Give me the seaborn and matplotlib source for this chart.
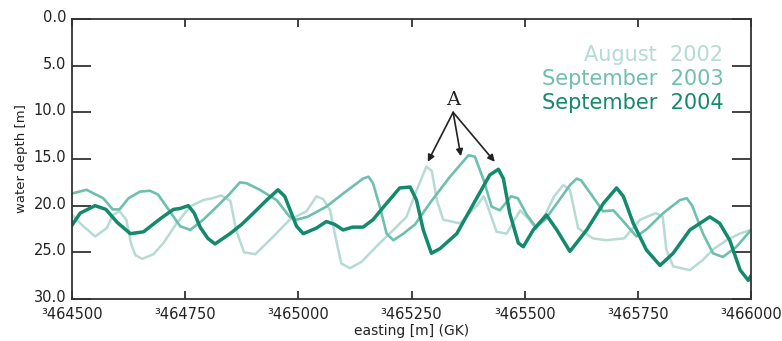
import matplotlib
matplotlib.use("Agg")
import matplotlib.pyplot as plt
import matplotlib.transforms as mtransforms
import seaborn as sns
import pandas as pd

# ---------------- data ----------------
aug2002_x = [464500, 464525, 464551, 464577, 464590, 464605, 464620, 464630, 464640, 464655,
             464680, 464702, 464731, 464761, 464790, 464810, 464830, 464850, 464862, 464880,
             464905, 464945, 464981, 465018, 465040, 465055, 465070, 465085, 465095, 465114,
             465140, 465180, 465210, 465239, 465260, 465283, 465295, 465306, 465320, 465357,
             465394, 465410, 465425, 465438, 465460, 465490, 465510, 465525, 465545, 465565,
             465585, 465600, 465618, 465650, 465680, 465720, 465755, 465790, 465805, 465813,
             465828, 465865, 465894, 465916, 465946, 465975, 466000]
aug2002_y = [21.0, 22.2, 23.3, 22.4, 21.0, 20.6, 21.5, 24.0, 25.3, 25.7,
             25.2, 24.0, 21.9, 20.1, 19.4, 19.2, 18.9, 19.5, 22.5, 25.0,
             25.2, 23.3, 21.5, 20.6, 19.0, 19.3, 20.5, 24.0, 26.2, 26.7,
             26.0, 24.0, 22.6, 21.2, 18.5, 15.8, 16.3, 19.4, 21.5, 21.9,
             20.0, 19.0, 21.0, 22.8, 23.0, 20.5, 21.5, 22.5, 21.0, 19.0,
             17.8, 18.3, 22.4, 23.5, 23.7, 23.5, 21.5, 20.8, 21.2, 24.7,
             26.5, 26.9, 25.8, 24.7, 23.7, 23.0, 22.6]

sep2003_x = [464500, 464532, 464569, 464590, 464605, 464625, 464650, 464672, 464690, 464716,
             464739, 464761, 464790, 464820, 464849, 464871, 464886, 464915, 464952, 464981,
             464996, 465020, 465062, 465099, 465143, 465155, 465165, 465180, 465195, 465210,
             465232, 465258, 465291, 465335, 465376, 465390, 465409, 465427, 465445, 465470,
             465485, 465505, 465525, 465545, 465575, 465600, 465615, 465625, 465650, 465673,
             465696, 465720, 465747, 465770, 465806, 465843, 465858, 465870, 465894, 465916,
             465938, 465968, 466000]
sep2003_y = [18.7, 18.3, 19.2, 20.4, 20.4, 19.2, 18.5, 18.4, 18.8, 20.6,
             22.2, 22.6, 21.5, 20.1, 18.7, 17.5, 17.6, 18.3, 19.4, 21.2,
             21.5, 21.2, 20.1, 18.7, 17.1, 16.9, 17.6, 20.1, 23.0, 23.7,
             23.0, 22.0, 19.7, 16.9, 14.6, 14.75, 17.2, 20.1, 20.5, 19.0,
             19.2, 21.0, 22.3, 21.5, 19.5, 17.8, 17.1, 17.3, 19.0, 20.6,
             20.5, 21.8, 23.3, 22.5, 20.8, 19.4, 19.2, 20.0, 23.0, 25.1,
             25.5, 24.4, 22.6]

sep2004_x = [464500, 464518, 464551, 464575, 464600, 464629, 464658, 464695, 464724, 464739,
             464757, 464770, 464783, 464800, 464816, 464849, 464875, 464905, 464930, 464955,
             464970, 464996, 465011, 465040, 465062, 465080, 465099, 465120, 465143, 465165,
             465195, 465224, 465247, 465261, 465276, 465294, 465313, 465350, 465387, 465423,
             465442, 465453, 465467, 465486, 465497, 465519, 465548, 465571, 465600, 465637,
             465674, 465703, 465718, 465740, 465769, 465799, 465828, 465865, 465909, 465931,
             465953, 465976, 465994, 466000]
sep2004_y = [22.1, 20.8, 20.0, 20.4, 21.8, 23.0, 22.8, 21.4, 20.4, 20.3,
             20.0, 20.8, 22.3, 23.5, 24.1, 23.0, 22.0, 20.6, 19.4, 18.3,
             19.0, 22.2, 23.0, 22.4, 21.7, 22.0, 22.6, 22.3, 22.3, 21.5,
             19.75, 18.1, 18.0, 19.4, 22.6, 25.1, 24.6, 23.0, 19.8, 16.7,
             16.1, 17.1, 20.8, 24.0, 24.4, 22.6, 21.0, 22.6, 24.9, 22.6,
             19.75, 18.1, 19.0, 21.9, 24.75, 26.4, 25.1, 22.6, 21.2, 21.9,
             23.7, 26.9, 28.0, 27.5]

series_names = ["August  2002", "September  2003", "September  2004"]
x_ticks = [464500, 464750, 465000, 465250, 465500, 465750, 466000]
x_tick_labels = ["³464500", "³464750", "³465000", "³465250", "³465500", "³465750", "³466000"]
y_ticks = [0, 5, 10, 15, 20, 25, 30]
y_tick_labels = ["0.0", "5.0", "10.0", "15.0", "20.0", "25.0", "30.0"]

# annotation "A" (data coords)
a_text = (465342, 8.7)
a_start = (465342, 10.0)
a_tips_x = [465286, 465359, 465434]
a_tips_y = [15.3, 14.7, 15.3]

# ---------------- styles ----------------
colors = ["#b6dbd5", "#6ebfad", "#138a6b"]
widths = [1.8, 1.9, 2.5]

sns.set_theme(style="white")
plt.rcParams["font.family"] = ["DejaVu Sans"]

fig = plt.figure(figsize=(7.82, 3.41), dpi=100)
ax = fig.add_axes([72 / 782, 1 - 299 / 341, 679 / 782, 280 / 341])

frames = []
for name, xs, ys in zip(series_names, [aug2002_x, sep2003_x, sep2004_x],
                        [aug2002_y, sep2003_y, sep2004_y]):
    frames.append(pd.DataFrame({"easting": xs, "depth": ys, "survey": name}))
df = pd.concat(frames, ignore_index=True)

for name, c, w in zip(series_names, colors, widths):
    sub = df[df["survey"] == name]
    sns.lineplot(data=sub, x="easting", y="depth", ax=ax, color=c, linewidth=w,
                 sort=False, estimator=None, legend=False)

ax.set_xlim(464500, 466000)
ax.set_ylim(30, 0)
ax.set_xticks(x_ticks)
ax.set_xticklabels(x_tick_labels, fontsize=10.5, color="#222222")
ax.set_yticks(y_ticks)
ax.set_yticklabels(y_tick_labels, fontsize=10.5, color="#222222")
ax.tick_params(axis="x", direction="in", length=6, width=1.3, top=True, bottom=True,
               pad=6, color="#333333")
ax.tick_params(axis="y", direction="in", length=14, width=1.3, left=True, right=True,
               pad=4, color="#333333")
# y tick labels sit slightly above their ticks, as in the reference
shift = mtransforms.ScaledTranslation(0, 3 / 100, fig.dpi_scale_trans)
for lab in ax.get_yticklabels():
    lab.set_transform(lab.get_transform() + shift)
for s in ax.spines.values():
    s.set_color("#333333")
    s.set_linewidth(1.3)

ax.set_xlabel("easting [m] (GK)", fontsize=10, color="#222222", labelpad=1)
ax.set_ylabel("water depth [m]", fontsize=9.5, color="#222222", labelpad=4)

# legend-like labels
for i, (name, c) in enumerate(zip(series_names, colors)):
    ax.text(0.959, 0.873 - i * 0.086, name, transform=ax.transAxes, ha="right",
            va="center", fontsize=15, color=c)

# annotation A with arrows
ax.text(a_text[0], a_text[1], "A", ha="center", va="center", fontsize=14,
        family="DejaVu Serif", color="#222222")
for tx, ty in zip(a_tips_x, a_tips_y):
    ax.annotate("", xy=(tx, ty), xytext=a_start,
                arrowprops=dict(arrowstyle="-|>", color="#222222", lw=1.2,
                                mutation_scale=10, shrinkA=0, shrinkB=0))

fig.savefig("out.png", dpi=100)
